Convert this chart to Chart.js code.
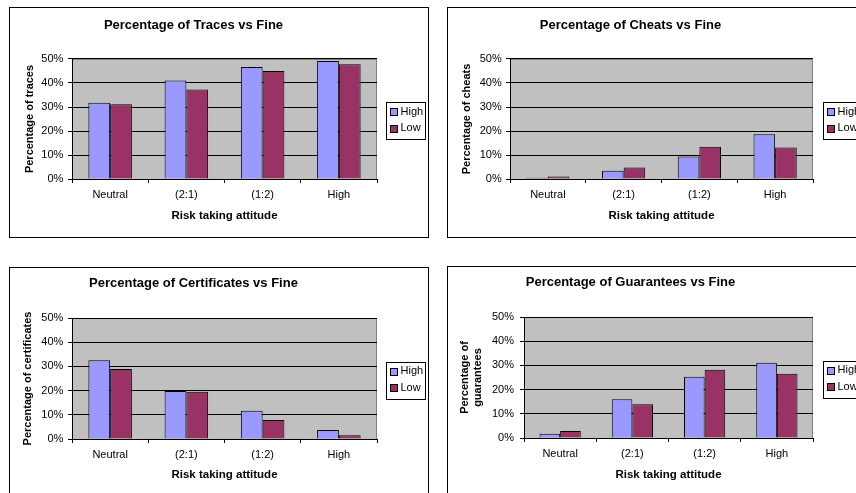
<!DOCTYPE html>
<html>
<head>
<meta charset="utf-8">
<script src="https://cdn.jsdelivr.net/npm/chart.js@4.4.1/dist/chart.umd.min.js"></script>
<style>
    html, body { margin: 0; padding: 0; width: 856px; height: 493px; overflow: hidden; background: #fff; }
    .panel { position: absolute; border: 1px solid #000; background: #fff; width: 418px; height: 229px; }
    .panel canvas { display: block; }
</style>
</head>
<body>
<div class="panel" style="left:9px; top:7px;"><canvas id="tracesChart" width="418" height="229"></canvas></div>
<div class="panel" style="left:447px; top:7px;"><canvas id="cheatsChart" width="418" height="229"></canvas></div>
<div class="panel" style="left:9px; top:267px;"><canvas id="certificatesChart" width="418" height="229"></canvas></div>
<div class="panel" style="left:447px; top:266px;"><canvas id="guaranteesChart" width="418" height="229"></canvas></div>

<script>
// categories and tick labels
const attitudes = ["Neutral", "(2:1)", "(1:2)", "High"];
const fineLabels = ["High", "Low"];
const yTicks = [0, 10, 20, 30, 40, 50];

// values in percent
const tracesHigh = [31.8, 41.0, 46.7, 49.2];
const tracesLow = [31.1, 37.3, 45.0, 47.8];
const cheatsHigh = [0.5, 3.4, 9.4, 18.6];
const cheatsLow = [1.0, 4.8, 13.4, 13.1];
const certificatesHigh = [32.5, 19.8, 11.7, 3.7];
const certificatesLow = [28.9, 19.5, 7.9, 1.6];
const guaranteesHigh = [1.8, 16.0, 25.3, 31.1];
const guaranteesLow = [2.9, 13.9, 28.2, 26.5];

Chart.defaults.font.family = "'Liberation Sans', Arial, sans-serif";
Chart.defaults.color = "#000";

const W = 418, H = 229;
const TITLE_SIZE = 13;
const XTITLE_SIZE = 11.5;

// grey plot background, like the old Excel charts
const plotBackground = {
    id: "plotBackground",
    beforeDraw(chart) {
        const { ctx, chartArea: a } = chart;
        ctx.save();
        ctx.fillStyle = "#C0C0C0";
        ctx.fillRect(a.left, a.top, a.right - a.left, a.bottom - a.top);
        ctx.strokeStyle = "#808080";
        ctx.lineWidth = 1;
        ctx.strokeRect(a.left + 0.5, a.top + 0.5, a.right - a.left - 1, a.bottom - a.top);
        ctx.restore();
    }
};

// framed legend at the right of the plot
const boxedLegend = {
    id: "boxedLegend",
    afterDraw(chart) {
        const { ctx, chartArea: a } = chart;
        const left = Math.round(a.right + chart.options.legendGap) + 0.5;
        const mid = (a.top + a.bottom) / 2 + 1;
        const top = Math.round(mid - 18) + 0.5;
        ctx.save();
        ctx.fillStyle = "#fff";
        ctx.strokeStyle = "#000";
        ctx.lineWidth = 1;
        ctx.fillRect(left, top, 39, 37);
        ctx.strokeRect(left, top, 39, 37);
        ctx.font = "11px 'Liberation Sans', Arial, sans-serif";
        ctx.textBaseline = "middle";
        chart.data.datasets.forEach((ds, i) => {
            const cy = mid + (i === 0 ? -8.3 : 8.3);
            const sy = Math.round(cy - 3.5) + 0.5;
            ctx.fillStyle = ds.backgroundColor;
            ctx.fillRect(left + 4, sy, 7, 7);
            ctx.strokeRect(left + 4, sy, 7, 7);
            ctx.fillStyle = "#000";
            ctx.fillText(ds.label, left + 14, cy);
        });
        ctx.restore();
    }
};

function makeChart(id, title, yTitle, high, low, g) {
    const ctx = document.getElementById(id).getContext("2d");
    const titleLine = TITLE_SIZE * 1.2;
    const titleTop = g.titleY - titleLine / 2;
    return new Chart(ctx, {
        type: "bar",
        data: {
            labels: attitudes,
            datasets: [
                { label: fineLabels[0], data: high, backgroundColor: "#9999FF", borderColor: "#000", borderWidth: 1 },
                { label: fineLabels[1], data: low, backgroundColor: "#993366", borderColor: "#000", borderWidth: 1 }
            ]
        },
        plugins: [plotBackground, boxedLegend],
        options: {
            responsive: false,
            animation: false,
            legendGap: g.legendGap,
            categoryPercentage: 0.571,
            barPercentage: 1,
            layout: { padding: { top: 0, left: 0, bottom: 0, right: W - g.right } },
            plugins: {
                legend: { display: false },
                tooltip: { enabled: false },
                title: {
                    display: true,
                    text: title,
                    font: { size: TITLE_SIZE, weight: "bold" },
                    color: "#000",
                    padding: { top: titleTop, bottom: g.top - titleTop - titleLine }
                }
            },
            scales: {
                x: {
                    grid: { display: true, offset: true, drawOnChartArea: false, drawTicks: true, tickLength: 4, color: "#000" },
                    border: { color: "#000" },
                    ticks: { font: { size: 11 }, padding: 5.4, color: "#000" },
                    title: {
                        display: true,
                        text: "Risk taking attitude",
                        font: { size: XTITLE_SIZE, weight: "bold" },
                        color: "#000",
                        padding: { top: 0, bottom: H - g.xTitleY - XTITLE_SIZE * 0.6 }
                    },
                    afterFit(scale) { scale.height = H - g.bottom; }
                },
                y: {
                    min: 0,
                    max: 50,
                    grid: { color: "#000", tickLength: 4 },
                    border: { color: "#000" },
                    afterBuildTicks(scale) { scale.ticks = yTicks.map(v => ({ value: v })); },
                    ticks: { font: { size: 11 }, padding: g.tickPad, color: "#000", callback: v => v + "%" },
                    title: {
                        display: true,
                        text: yTitle,
                        font: { size: 11, weight: "bold" },
                        color: "#000",
                        padding: { top: g.yTitleX - 6.6, bottom: 0 }
                    },
                    afterFit(scale) { scale.width = g.left; }
                }
            }
        }
    });
}

document.addEventListener("DOMContentLoaded", () => {
    makeChart("tracesChart", "Percentage of Traces vs Fine", "Percentage of traces", tracesHigh, tracesLow,
        { left: 62, right: 367, top: 51, bottom: 171, titleY: 17, xTitleY: 208, yTitleX: 20, tickPad: 4.7, legendGap: 9 });
    makeChart("cheatsChart", "Percentage of Cheats vs Fine", "Percentage of cheats", cheatsHigh, cheatsLow,
        { left: 62, right: 365, top: 51, bottom: 171, titleY: 17, xTitleY: 208, yTitleX: 18.7, tickPad: 4.3, legendGap: 10 });
    makeChart("certificatesChart", "Percentage of Certificates vs Fine", "Percentage of certificates", certificatesHigh, certificatesLow,
        { left: 62, right: 367, top: 50, bottom: 171, titleY: 15.3, xTitleY: 207, yTitleX: 18.3, tickPad: 4.7, legendGap: 9 });
    makeChart("guaranteesChart", "Percentage of Guarantees vs Fine", ["Percentage of", "guarantees"], guaranteesHigh, guaranteesLow,
        { left: 76, right: 365, top: 50, bottom: 171, titleY: 15.3, xTitleY: 208, yTitleX: 17, tickPad: 6, legendGap: 10 });
});
</script>
</body>
</html>
